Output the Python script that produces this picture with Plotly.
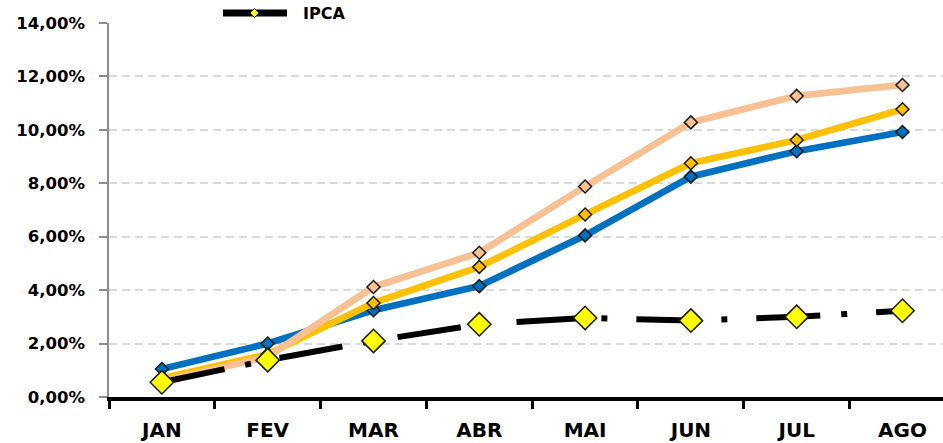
import plotly.graph_objects as go

months = ["JAN", "FEV", "MAR", "ABR", "MAI", "JUN", "JUL", "AGO"]
serie_azul = [1.05, 2.00, 3.25, 4.15, 6.05, 8.25, 9.20, 9.92]
serie_ouro = [0.70, 1.60, 3.52, 4.87, 6.83, 8.75, 9.62, 10.77]
serie_pessego = [0.60, 1.50, 4.12, 5.40, 7.88, 10.28, 11.27, 11.68]
ipca = [0.55, 1.38, 2.10, 2.72, 2.96, 2.86, 3.00, 3.23]
y_ticks = [0, 2, 4, 6, 8, 10, 12, 14]
y_tick_labels = ["0,00%", "2,00%", "4,00%", "6,00%", "8,00%", "10,00%", "12,00%", "14,00%"]

FONT = "DejaVu Sans"

fig = go.Figure()

def add_series(vals, color, name):
    fig.add_trace(go.Scatter(
        x=months, y=vals, mode="lines+markers", name=name, showlegend=False,
        line=dict(color=color, width=6.8),
        marker=dict(symbol="diamond", size=10, color=color,
                    line=dict(color="#1a1a1a", width=1.5)),
        cliponaxis=False,
    ))

add_series(serie_azul, "#0070C0", "Série 1")
add_series(serie_ouro, "#FFC000", "Série 2")
add_series(serie_pessego, "#F8C193", "Série 3")

fig.add_trace(go.Scatter(
    x=months, y=ipca, mode="lines+markers", name="IPCA", showlegend=False,
    line=dict(color="black", width=6, dash="64px,21px,6px,29px"),
    marker=dict(symbol="diamond", size=18, color="#FFFF00",
                line=dict(color="#1a1a1a", width=1.5)),
    cliponaxis=False,
))

# body margin is removed by the post script, so window pixels = figure pixels
W, H = 943, 443
L, T = 109, 23
BOT = 397
B = H - BOT
pw, ph = W - L, BOT - T

def px(x):
    return (x - L) / pw

def py(y):
    return (BOT - y) / ph

# legend (IPCA only)
shapes = [
    dict(type="line", xref="paper", yref="paper", x0=px(223), x1=px(287), y0=py(13), y1=py(13),
         line=dict(color="black", width=7)),
    dict(type="path", xref="paper", yref="paper",
         path=f"M {px(254.5)},{py(8.5)} L {px(259)},{py(13)} L {px(254.5)},{py(17.5)} L {px(250)},{py(13)} Z",
         fillcolor="#FFFF00", line=dict(color="#1a1a1a", width=1)),
]

fig.update_layout(
    width=W, height=H,
    margin=dict(l=L, r=0, t=T, b=B),
    paper_bgcolor="white", plot_bgcolor="white",
    showlegend=False,
    shapes=shapes,
    annotations=[dict(text="<b>IPCA</b>", xref="paper", yref="paper", x=px(301), y=py(13.5),
                      xanchor="left", yanchor="middle", showarrow=False,
                      font=dict(family=FONT, size=16, color="black"))],
    xaxis=dict(
        type="category", range=[-0.5, 7.383],
        showline=True, linecolor="black", linewidth=4,
        ticks="outside", tickson="boundaries", ticklen=8, tickwidth=3, tickcolor="black",
        showgrid=False, zeroline=False,
        tickfont=dict(family=FONT, size=20, color="black", weight="bold"),
        ticklabelstandoff=12,
    ),
    yaxis=dict(
        range=[0, 14], tickvals=y_ticks, ticktext=y_tick_labels,
        showline=True, linecolor="#8c8c8c", linewidth=1.5,
        ticks="outside", ticklen=8, tickwidth=1.5, tickcolor="#8c8c8c",
        showgrid=True, gridcolor="#d9d9d9", gridwidth=1.5, griddash="8px,5px",
        zeroline=False,
        tickfont=dict(family=FONT, size=16.5, color="black", weight="bold"),
        ticklabelstandoff=11,
    ),
)

fig.write_html("out.html", config={"displayModeBar": False},
               post_script="document.body.style.margin='0px';document.body.style.overflow='hidden';")
